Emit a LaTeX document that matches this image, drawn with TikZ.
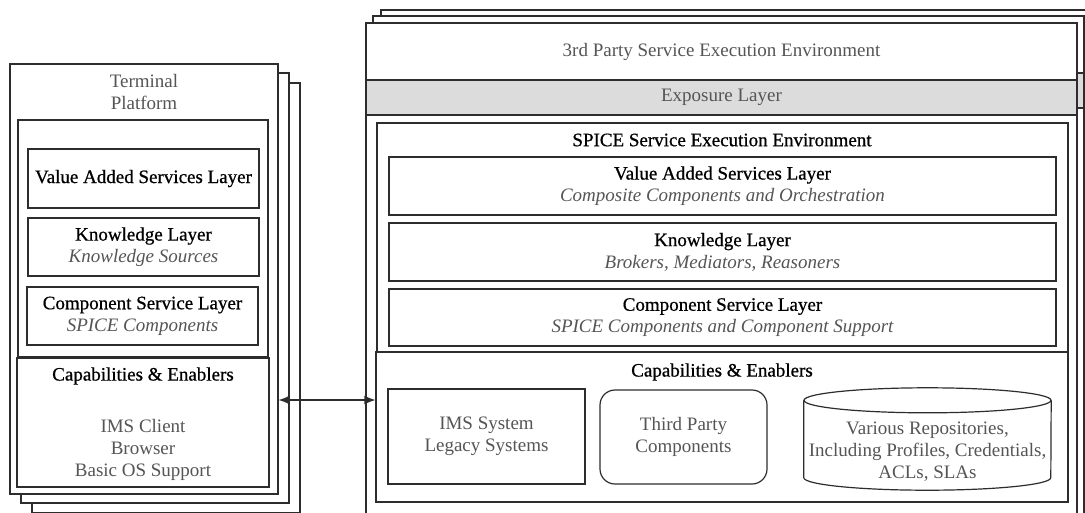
\documentclass[tikz,border=0pt]{standalone}
\usepackage{fontspec}
\setmainfont{Liberation Serif}
\newfontfamily\headfont{Liberation Serif}[FakeBold=0.7]
\usetikzlibrary{arrows.meta}

\definecolor{linegray}{RGB}{45,45,45}
\definecolor{textgray}{RGB}{85,85,85}
\definecolor{bandgray}{RGB}{220,220,220}

\tikzset{
	box/.style={draw=linegray, line width=1.2pt, inner sep=0pt, fill=white, align=center},
	sz/.style 2 args={minimum width=#1pt, minimum height=#2pt},
	head/.style={font=\fontsize{19}{22}\headfont},
	note/.style={text=textgray, align=center},
}
\newcommand{\subline}[1]{\textcolor{textgray}{\normalfont\itshape #1}}

\begin{document}
\begin{tikzpicture}[x=1pt,y=-1pt,>={Latex[length=11pt,width=9pt]},font=\fontsize{19}{22}\selectfont]
	\useasboundingbox (0,0) rectangle (1085,512);

	% terminal platform (stacked copies behind)
	\foreach \d/\e in {22/19,11/9}
		\draw[box] (10+\d,64+\e) rectangle (278+\d,494+\e);
	\node[box, sz={268}{430}] (term) at (144,279) {};
	\node[note] (termtitle) at (144,92) {Terminal\\Platform};
	\node[box, sz={250}{237}] (tinner) at (143,238.5) {};
	\node[box, head, sz={231}{59}] (tvas) at (143.5,178.5) {Value Added Services Layer};
	\node[box, head, sz={231}{58}] (tknow) at (143.5,247) {Knowledge Layer\\\subline{Knowledge Sources}};
	\node[box, head, sz={231}{58}] (tcomp) at (142.5,316) {Component Service Layer\\\subline{SPICE Components}};
	\node[box, sz={252}{129}] (tcap) at (143,422.5) {};
	\node[head] (tcaptitle) at (143,376) {Capabilities \& Enablers};
	\node[note] (tcapitems) at (143,450) {IMS Client\\Browser\\Basic OS Support};

	% 3rd party environment (stacked copies behind)
	\foreach \d/\e in {15/-13,7/-7} {
		\draw[box] (366+\d,23+\e) rectangle (1077+\d,540);
		\draw[box, fill=bandgray] (366+\d,80+\e) rectangle (1077+\d,115+\e);
	}
	\node[box, sz={711}{57}] (third) at (721.5,51.5) {\textcolor{textgray}{3rd Party Service Execution Environment}};
	\node[box, fill=bandgray, sz={711}{35}] (expo) at (721.5,97.5) {\textcolor{textgray}{Exposure Layer}};
	\node[box, sz={711}{425}] (thirdbody) at (721.5,327.5) {};

	% SPICE environment
	\node[box, sz={691}{229}] (senv) at (722.5,237.5) {};
	\node[head] (senvtitle) at (722,140) {SPICE Service Execution Environment};
	\node[box, head, sz={667}{58}] (svas) at (722.5,186) {Value Added Services Layer\\\subline{Composite Components and Orchestration}};
	\node[box, head, sz={667}{58}] (sknow) at (722.5,252) {Knowledge Layer\\\subline{Brokers, Mediators, Reasoners}};
	\node[box, head, sz={667}{57}] (scomp) at (722.5,317.5) {Component Service Layer\\\subline{SPICE Components and Component Support}};

	\node[box, sz={692}{150}] (scap) at (722,427) {};
	\node[head] (scaptitle) at (722,372) {Capabilities \& Enablers};
	\node[box, note, sz={197}{95}] (sims) at (486.5,436.5) {IMS System\\Legacy Systems};
	\node[box, note, rounded corners=15pt, sz={167}{94}] (sparty) at (683.5,437) {Third Party\\Components};

	% repository cylinder
	\node[inner sep=0pt, sz={247}{102}] (srepo) at (927.5,439) {};
	\draw[linegray, line width=1.2pt] ([yshift=-12.5pt]srepo.north west) -- ([yshift=12.5pt]srepo.south west)
		arc[start angle=180, end angle=360, x radius=123.5pt, y radius=12.5pt] -- ([yshift=-12.5pt]srepo.north east);
	\draw[linegray, line width=1.2pt] ([yshift=-12.5pt]srepo.north) ellipse[x radius=123.5pt, y radius=12.5pt];
	\node[note] (srepotext) at (927.5,452) {Various Repositories,\\Including Profiles, Credentials,\\ACLs, SLAs};

	% link between both platforms
	\coordinate (lk) at (0,400);
	\draw[<->, linegray, line width=1.2pt] (term.east |- lk) -- (scap.west |- lk);
\end{tikzpicture}
\end{document}
